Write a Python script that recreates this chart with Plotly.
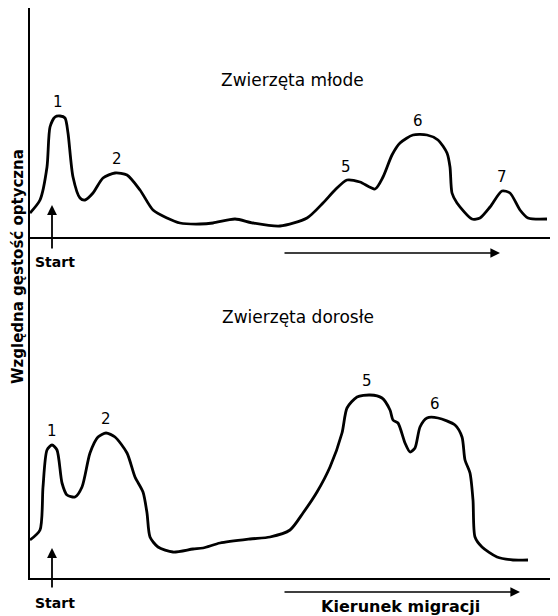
import numpy as np
import plotly.graph_objects as go

# ---- data: migration distance (arbitrary units) vs relative optical density ----
young_x = [0, 2, 3.4, 4, 5, 6, 7, 7.6, 8.6, 10, 11, 12.6, 14.6, 17, 19.4, 22, 24.6, 27.4,
           30, 34, 36.6, 41, 44.6, 50, 55.4, 58.6, 61, 63.4, 66, 69, 70.6, 72.4, 74, 76.6,
           79.4, 81.6, 83.4, 84, 84.4, 85.4, 88.4, 90, 92, 94.4, 96, 98, 99.6, 103.4]
young_y = [12, 18.5, 35, 55, 60, 60.5, 59.5, 52, 30, 19.5, 18.5, 22, 29.5, 32, 31, 23.5, 13.5, 9.5,
           7, 6.5, 7, 9, 7, 5.5, 9.5, 17, 23.5, 28.5, 27.5, 24, 30, 41, 47, 51,
           51, 48.5, 42, 35, 22, 17, 9, 9.5, 15, 23, 22, 13.5, 9.5, 9]

adult_x = [0, 2, 2.6, 3.4, 4.4, 5.4, 6.4, 7.4, 9, 10.4, 12, 13.6, 15.2, 17, 19.4, 21, 22.6, 23.4,
           24, 25.6, 28.6, 32.6, 34.6, 38, 44, 48, 52, 54.6, 57.4, 60, 62.4, 63.4, 65.4, 68,
           70.4, 72, 72.6, 73.6, 75, 76, 77, 78, 79.4, 81.6, 85, 86.4, 87, 88, 88.6, 89,
           90.4, 93.4, 96.6, 99.6]
adult_y = [19, 24, 45.5, 64, 66.5, 64, 47.5, 41.5, 40.5, 45.5, 62.5, 70.5, 72.5, 70.5, 62.5, 50.5, 43, 32.5,
           20.5, 15.5, 13, 14.5, 15, 17.5, 19.5, 20.5, 24, 32.5, 43, 55.5, 72.5, 85, 90.5, 91.5,
           90, 84, 79, 77.5, 67.5, 63, 65, 75.5, 80, 80, 76.5, 70.5, 59, 52.5, 39, 20.5,
           15.5, 10.5, 9, 9]

young_peaks = ["1", "2", "5", "6", "7"]
young_peak_x = [5.6, 17.4, 63.2, 77.6, 94.4]
adult_peaks = ["1", "2", "5", "6"]
adult_peak_x = [4.4, 15.2, 67.4, 81.0]

title_young = "Zwierzęta młode"
title_adult = "Zwierzęta dorosłe"
y_title = "Względna gęstość optyczna"
start_label = "Start"
direction_label = "Kierunek migracji"

# the page body adds an 8px margin, so the figure is 8px smaller than the window
OFF = 8
FW, FH = 558 - OFF, 616 - OFF
FONT = "DejaVu Sans"

def px_x(p):
    return (p - OFF) / FW

def px_y(p):
    return 1 - (p - OFF) / FH

fig = go.Figure()
line = dict(color="black", width=2.8, shape="spline", smoothing=0.7)
fig.add_trace(go.Scatter(x=young_x, y=young_y, mode="lines", line=line,
                         xaxis="x", yaxis="y", showlegend=False, hoverinfo="skip"))
fig.add_trace(go.Scatter(x=adult_x, y=adult_y, mode="lines", line=line,
                         xaxis="x2", yaxis="y2", showlegend=False, hoverinfo="skip"))

ann = []
def peak_labels(labels, xs, cx, cy, xr, yr):
    for t, px in zip(labels, xs):
        py = float(np.interp(px, cx, cy))
        ann.append(dict(x=px, y=py, xref=xr, yref=yr, text=t, showarrow=False,
                        yanchor="middle", yshift=14, font=dict(family=FONT, size=15, color="black")))

peak_labels(young_peaks, young_peak_x, young_x, young_y, "x", "y")
peak_labels(adult_peaks, adult_peak_x, adult_x, adult_y, "x2", "y2")

# titles
ann.append(dict(x=52.4, y=78.5, xref="x", yref="y", text=title_young, showarrow=False,
                font=dict(family=FONT, size=17, color="black")))
ann.append(dict(x=53.6, y=130.5, xref="x2", yref="y2", text=title_adult, showarrow=False,
                font=dict(family=FONT, size=17, color="black")))

# start arrows (tip in data coords, labels below the baseline in paper coords)
for xr, yr, tipy, ay, label_py in [("x", "y", 16, 45, 262), ("x2", "y2", 15, 41, 603)]:
    ann.append(dict(x=4.4, y=tipy, xref=xr, yref=yr, text="", showarrow=True, ax=0, ay=ay,
                    arrowhead=2, arrowsize=1.1, arrowwidth=1.8, arrowcolor="black"))
    ann.append(dict(x=5.0, y=px_y(label_py), xref=xr, yref="paper", text=start_label,
                    showarrow=False, xanchor="center", yanchor="middle",
                    font=dict(family=FONT, size=14, color="black", weight="bold")))

# migration direction arrows
for xr, tip_x, py in [("x", 94, 253), ("x2", 98, 592)]:
    ann.append(dict(x=tip_x, y=px_y(py), xref=xr, yref="paper", ax=50.6, ay=0,
                    axref=xr, ayref="pixel", text="", showarrow=True, arrowhead=2,
                    arrowsize=1.2, arrowwidth=1.6, arrowcolor="black"))
ann.append(dict(x=74, y=px_y(606), xref="x2", yref="paper", text=direction_label,
                showarrow=False, xanchor="center", yanchor="middle",
                font=dict(family=FONT, size=16, color="black", weight="bold")))

# y-axis title
ann.append(dict(x=px_x(18), y=px_y(267), xref="paper", yref="paper", text=y_title, textangle=-90,
                showarrow=False, xanchor="center", yanchor="middle",
                font=dict(family=FONT, size=15, color="black", weight="bold")))

axis_common = dict(showgrid=False, zeroline=False, showticklabels=False, ticks="",
                   showline=True, linecolor="black", linewidth=2, fixedrange=True)

fig.update_layout(
    width=FW, height=FH, margin=dict(l=0, r=0, t=0, b=0),
    paper_bgcolor="white", plot_bgcolor="white",
    xaxis=dict(domain=[px_x(30), px_x(550)], range=[0, 104], anchor="y", **axis_common),
    yaxis=dict(domain=[px_y(237), 1], range=[0, (237 - OFF) / 2], anchor="x", **axis_common),
    xaxis2=dict(domain=[px_x(30), 1], range=[0, 105.6], anchor="y2", **axis_common),
    yaxis2=dict(domain=[px_y(578), px_y(237)], range=[0, 170.5], anchor="x2", **axis_common),
    annotations=ann,
)

fig.write_html("out.html")
